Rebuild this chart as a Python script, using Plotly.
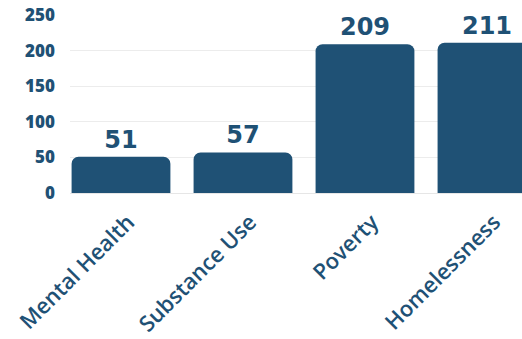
import plotly.graph_objects as go

categories = ["Mental Health", "Substance Use", "Poverty", "Homelessness"]
counts = [51, 57, 209, 211]
y_ticks = [0, 50, 100, 150, 200, 250]

navy = "#1f5175"

fig = go.Figure(
    go.Bar(
        x=categories,
        y=counts,
        text=[str(v) for v in counts],
        textposition="outside",
        textfont=dict(family="DejaVu Sans", size=24, color=navy, weight="bold"),
        marker=dict(color=navy, line=dict(width=0)),
        cliponaxis=False,
        constraintext="none",
    )
)

fig.update_layout(
    width=522,
    height=339,
    margin=dict(l=70, r=0, t=15, b=146),
    paper_bgcolor="white",
    plot_bgcolor="white",
    bargap=0.19,
    barcornerradius=7,
    showlegend=False,
    xaxis=dict(
        range=[-0.418, 3.287],
        tickangle=-45,
        tickfont=dict(family="Open Sans", size=22, color=navy, weight=600),
        showgrid=False,
        ticks="",
        showline=False,
        ticklabelstandoff=11,
        ticklabelshift=7,
    ),
    yaxis=dict(
        range=[0, 250],
        tickvals=y_ticks,
        tickfont=dict(family="Open Sans", size=17, color=navy, weight=800),
        gridcolor="#ececec",
        gridwidth=1,
        zeroline=True,
        zerolinecolor="#e6e6e6",
        zerolinewidth=1,
        ticks="",
        ticklabelstandoff=14,
    ),
)

fig.write_html("out.html")
